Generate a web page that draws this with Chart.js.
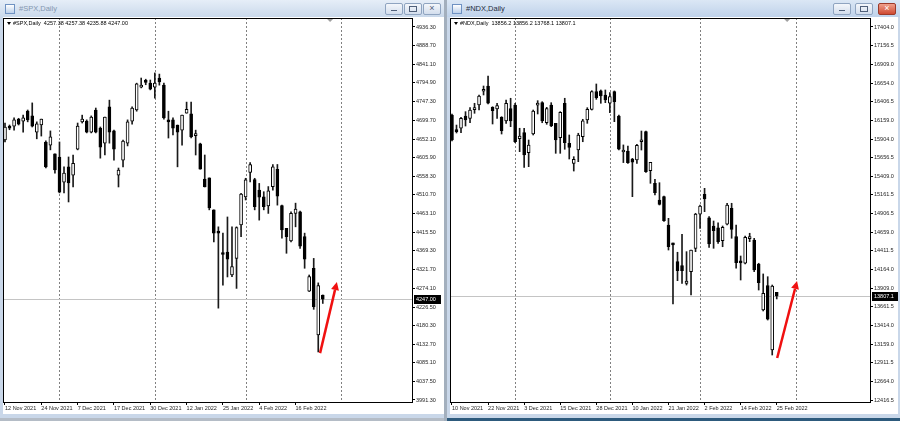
<!DOCTYPE html>
<html>
<head>
<meta charset="utf-8">
<script src="https://cdn.jsdelivr.net/npm/chart.js@4"></script>
<style>
body { margin:0; width:900px; height:421px; background:#a3afbd; position:relative; overflow:hidden; font-family:"Liberation Sans", Arial, sans-serif; }
.win { position:absolute; top:0; height:421px; background:#c9d7e9; }
.title { position:absolute; left:0; right:0; top:0; height:17px; background:linear-gradient(#e6eef8,#cad9eb); }
.ttl { position:absolute; left:19px; top:4px; font-size:7.5px; }
.ico { position:absolute; left:5px; top:4px; width:8px; height:8px; border:1px solid #6f92c2; background:linear-gradient(#ffffff,#bcd0ea); }
.btn { position:absolute; top:3px; width:16px; height:10px; border:1px solid #8fa4c0; border-radius:2px; background:linear-gradient(#f4f7fb,#d3deed); }
.btn.red { background:linear-gradient(#f0a08c,#cf4a32); border-color:#9c3a2a; }
.btn i { position:absolute; display:block; }
.btn .mn { left:5px; top:6px; width:6px; height:1px; background:#50607a; }
.btn .mx { left:4px; top:2px; width:6px; height:4px; border:1px solid #50607a; }
.btn .cl { left:0; right:0; top:-1px; text-align:center; font-size:9px; line-height:11px; color:#50607a; font-style:normal; }
.btn.red .cl { color:#fff; }
.foot { position:absolute; left:0; right:0; bottom:0; height:3px; }
canvas { position:absolute; top:17px; background:#fff; }
</style>
</head>
<body>
<div class="win" style="left:0;width:444px">
  <div class="title">
    <div class="ico"></div><span class="ttl" style="color:#8497b0">#SPX,Daily</span>
    <div class="btn" style="left:385px"><i class="mn"></i></div>
    <div class="btn" style="left:404px"><i class="mx"></i></div>
    <div class="btn" style="left:423px"><i class="cl">×</i></div>
  </div>
  <canvas id="spxChart" width="441" height="397" style="left:3px"></canvas>
  <div class="foot" style="background:#b4bcc6"></div>
</div>
<div class="win" style="left:447px;width:453px">
  <div class="title" style="background:linear-gradient(#dbe7f5,#bfd2ea)">
    <div class="ico"></div><span class="ttl" style="color:#1e2c40">#NDX,Daily</span>
    <div class="btn" style="left:386px"><i class="mn"></i></div>
    <div class="btn" style="left:408px"><i class="mx"></i></div>
    <div class="btn red" style="left:431px"><i class="cl">×</i></div>
  </div>
  <canvas id="ndxChart" width="448" height="397" style="left:3px"></canvas>
  <div class="foot" style="background:#2d5a7c"></div>
</div>
<script>
// #SPX daily candles, 12 Nov 2021 .. 25 Feb 2022
const spxOpen = [4650,4683,4685,4703,4698,4723,4711,4670,4688,4645,4637,4615,4607,4543,4582,4561,4627,4696,4698,4670,
  4726,4680,4642,4734,4673,4561,4599,4642,4698,4726,4784,4799,4794,4784,4807,4789,4699,4701,4688,4675,
  4718,4716,4661,4640,4551,4554,4473,4417,4365,4366,4308,4350,4435,4506,4568,4550,4523,4506,4483,4532,
  4576,4484,4426,4394,4464,4468,4405,4267,4325,4156,4257.38];
const spxHigh = [4693,4688,4706,4705,4713,4726,4744,4696,4703,4648,4673,4615,4645,4582,4607,4612,4693,4713,4701,4711,
  4731,4683,4708,4751,4675,4579,4650,4701,4734,4794,4807,4804,4802,4820,4817,4794,4723,4706,4688,4713,
  4746,4746,4675,4642,4612,4554,4473,4430,4414,4455,4430,4430,4515,4553,4593,4553,4540,4519,4532,4588,
  4588,4485,4426,4468,4490,4470,4414,4308,4350,4288,4257.38];
const spxLow = [4645,4676,4675,4688,4670,4696,4683,4653,4660,4579,4625,4566,4516,4516,4493,4531,4625,4693,4668,4668,
  4668,4604,4612,4642,4599,4531,4582,4635,4690,4723,4782,4790,4777,4756,4789,4703,4655,4663,4582,4637,
  4718,4655,4612,4576,4531,4473,4392,4224,4282,4303,4304,4274,4405,4498,4544,4473,4447,4473,4464,4523,
  4485,4401,4363,4392,4430,4375,4325,4266,4221,4113,4235.88];
const spxClose = [4683,4680,4701,4690,4706,4701,4685,4691,4703,4582,4658,4574,4518,4566,4541,4591,4685,4703,4670,4708,
  4670,4632,4708,4670,4627,4574,4647,4696,4731,4792,4786,4796,4779,4794,4797,4706,4696,4680,4670,4713,
  4728,4658,4666,4576,4531,4478,4414,4414,4360,4348,4329,4428,4513,4549,4588,4481,4505,4481,4521,4582,
  4508,4422,4405,4464,4475,4381,4348,4304,4228,4281,4247.00];
const spxDates = ["12 Nov 2021","24 Nov 2021","7 Dec 2021","17 Dec 2021","30 Dec 2021","12 Jan 2022","25 Jan 2022","4 Feb 2022","16 Feb 2022"];
const spxPriceTicks = [4936.3,4888.7,4841.1,4794.9,4747.3,4699.7,4652.1,4605.9,4558.3,4510.7,4463.1,4415.5,4369.3,4321.7,4274.1,4226.5,4180.3,4132.7,4085.1,4037.5,3991.3];
const spxMonthStarts = [12, 33, 53, 74];

// #NDX daily candles, 10 Nov 2021 .. 25 Feb 2022
const ndxOpen = [16227,16020,16050,16214,16183,16300,16361,16545,16615,16330,16308,16197,16147,16312,16361,15910,15991,15723,15973,16360,
  16392,16124,16361,16116,15924,16384,15849,15581,15759,15937,16160,16303,16539,16552,16495,16384,16539,16214,15733,15746,
  15639,15626,15870,16004,15483,15314,15091,15135,14757,14505,14266,14213,13977,14132,14445,14900,15167,14854,14743,14720,
  14547,14766,14980,14600,14266,14245,14575,14556,14235,13620,13945,13085,13856.2];
const ndxHigh = [16240,16093,16197,16272,16325,16384,16495,16615,16749,16338,16384,16205,16428,16451,16384,16050,16050,15893,16294,16419,
  16405,16330,16392,16116,16272,16451,15960,15670,15983,16170,16325,16552,16642,16562,16562,16526,16549,16227,15827,15813,
  15648,15836,16013,16013,15595,15368,15322,15144,14846,14515,14392,14632,14400,14422,14913,15024,15247,14868,14810,14787,
  14743,15047,15047,14757,14342,14610,14646,14578,14245,14102,14065,13954,13856.2];
const ndxLow = [15880,15987,15991,16080,16124,16250,16294,16495,16374,16107,16183,15973,16116,16071,15857,15737,15528,15536,15960,16241,
  16124,16103,16071,15715,15715,15769,15639,15478,15603,15870,16116,16294,16437,16384,16392,16258,16138,15759,15591,15581,
  15135,15581,15759,15458,15314,15158,15024,14803,14422,13700,14012,13977,13954,13820,14400,14712,14935,14458,14445,14511,
  14466,14757,14579,14178,14021,14236,14534,14133,13887,13607,13486,13018,13768.1];
const ndxClose = [15893,16005,16183,16160,16294,16316,16481,16560,16384,16285,16352,16018,16384,16147,15870,15946,15692,15826,16281,16375,
  16147,16312,16080,15893,16263,15857,15795,15635,15960,16151,16303,16539,16459,16481,16428,16472,16405,15769,15759,15590,
  15595,15822,15893,15469,15595,15188,15033,14814,14466,14490,14146,14146,14008,14422,14904,15011,15104,14502,14680,14533,
  14726,15024,14699,14253,14250,14592,14592,14155,13985,13843,13496,13941,13807.1];
const ndxDates = ["10 Nov 2021","22 Nov 2021","3 Dec 2021","15 Dec 2021","28 Dec 2021","10 Jan 2022","21 Jan 2022","2 Feb 2022","14 Feb 2022","25 Feb 2022"];
const ndxPriceTicks = [17404.0,17156.5,16909.0,16654.0,16406.5,16159.0,15904.0,15656.5,15409.0,15161.5,14906.5,14659.0,14411.5,14164.0,13909.0,13661.5,13414.0,13159.0,12911.5,12664.0,12416.5];
const ndxMonthStarts = [14, 35, 55, 76.3];

const tickFont = { family: "Liberation Sans", size: 5.5 };

function buildCandles(open, high, low, close) {
  const wicks = [], bodies = [], colors = [];
  for (let i = 0; i < open.length; i++) {
    wicks.push({ x: i, y: [low[i], high[i]] });
    bodies.push({ x: i, y: [open[i], close[i]] });
    colors.push(close[i] >= open[i] ? "#ffffff" : "#000000");
  }
  return { wicks, bodies, colors };
}

function mtPlugin(o) {
  return {
    id: "mt" + o.symbol,
    beforeDatasetsDraw(chart) {
      const { ctx, chartArea: a, scales } = chart;
      ctx.save();
      ctx.lineWidth = 1;
      ctx.strokeStyle = "#808080";
      ctx.setLineDash([2, 2]);
      o.separators.forEach(function (s) {
        const px = Math.round(scales.x.getPixelForValue(s)) + 0.5;
        ctx.beginPath(); ctx.moveTo(px, a.top); ctx.lineTo(px, a.bottom); ctx.stroke();
      });
      ctx.setLineDash([]);
      ctx.strokeStyle = "#c4c4c4";
      const py = Math.round(scales.y.getPixelForValue(o.close[o.close.length - 1])) + 0.5;
      ctx.beginPath(); ctx.moveTo(a.left, py); ctx.lineTo(a.right, py); ctx.stroke();
      ctx.restore();
    },
    afterDraw(chart) {
      const { ctx, chartArea: a, scales } = chart;
      const n = o.close.length - 1;
      ctx.save();
      // frame
      ctx.strokeStyle = "#000";
      ctx.lineWidth = 1;
      ctx.strokeRect(a.left + 0.5, a.top + 0.5, a.right - a.left - 1, a.bottom - a.top);
      // current price box
      const py = Math.round(scales.y.getPixelForValue(o.close[n]));
      ctx.fillStyle = "#000";
      ctx.fillRect(a.right + 1, py - 4, 27, 9);
      ctx.fillStyle = "#fff";
      ctx.font = "5.5px 'Liberation Sans'";
      ctx.textBaseline = "middle";
      ctx.fillText(o.close[n].toFixed(o.digits), a.right + 3, py + 0.5);
      // header
      ctx.fillStyle = "#000";
      ctx.beginPath();
      ctx.moveTo(a.left + 4, a.top + 4); ctx.lineTo(a.left + 8, a.top + 4); ctx.lineTo(a.left + 6, a.top + 7);
      ctx.fill();
      const vals = [o.open[n], o.high[n], o.low[n], o.close[n]].map(v => v.toFixed(o.digits)).join(" ");
      ctx.fillText("#" + o.symbol + ",Daily  " + vals, a.left + 10, a.top + 5.5);
      // chart shift marker
      const sx = scales.x.getPixelForValue(o.shift);
      ctx.fillStyle = "#a0a0a0";
      ctx.beginPath();
      ctx.moveTo(sx - 3, a.top + 1); ctx.lineTo(sx + 3, a.top + 1); ctx.lineTo(sx, a.top + 4);
      ctx.fill();
      // red arrow
      const x1 = scales.x.getPixelForValue(o.arrow[0][0]), y1 = scales.y.getPixelForValue(o.arrow[0][1]);
      const x2 = scales.x.getPixelForValue(o.arrow[1][0]), y2 = scales.y.getPixelForValue(o.arrow[1][1]);
      const ang = Math.atan2(y2 - y1, x2 - x1);
      const hx = x2 - 8 * Math.cos(ang), hy = y2 - 8 * Math.sin(ang);
      ctx.strokeStyle = "#f01010";
      ctx.fillStyle = "#f01010";
      ctx.lineWidth = 2.5;
      ctx.beginPath(); ctx.moveTo(x1, y1); ctx.lineTo(hx, hy); ctx.stroke();
      ctx.beginPath();
      ctx.moveTo(x2, y2);
      ctx.lineTo(hx + 4 * Math.sin(ang), hy - 4 * Math.cos(ang));
      ctx.lineTo(hx - 4 * Math.sin(ang), hy + 4 * Math.cos(ang));
      ctx.closePath(); ctx.fill();
      ctx.restore();
    }
  };
}

function makeChart(canvasId, o) {
  const c = buildCandles(o.open, o.high, o.low, o.close);
  const config = {
    type: "bar",
    data: {
      datasets: [
        { data: c.bodies, backgroundColor: c.colors, borderColor: "#000", borderWidth: 1,
          borderSkipped: false, barThickness: 3, minBarLength: 2, grouped: false, order: 0 },
        { data: c.wicks, backgroundColor: "#1a1a1a", borderWidth: 0,
          barThickness: 1, grouped: false, order: 1 }
      ]
    },
    options: {
      responsive: false,
      animation: false,
      layout: { padding: { top: 1, left: 0, right: 0, bottom: 0 } },
      plugins: { legend: { display: false }, tooltip: { enabled: false } },
      scales: {
        x: {
          type: "linear", min: o.xMin, max: o.xMax, offset: false,
          grid: { offset: false, drawOnChartArea: false, tickLength: 3, color: "#000" },
          border: { display: false },
          afterBuildTicks: s => { s.ticks = o.dates.map((d, i) => ({ value: i * 8 })); },
          afterFit: s => { s.height = 12; s.paddingLeft = 0; s.paddingRight = 0; },
          ticks: { autoSkip: false, maxRotation: 0, minRotation: 0, align: "start", padding: 0,
            color: "#1e1e1e", font: tickFont, callback: v => o.dates[Math.round(v / 8)] }
        },
        y: {
          position: "right", min: o.yMin, max: o.yMax,
          grid: { drawOnChartArea: false, tickLength: 2, color: "#000" },
          border: { display: false },
          afterBuildTicks: s => { s.ticks = o.priceTicks.map(v => ({ value: v })); },
          afterFit: s => { s.width = o.axisWidth; s.paddingTop = 0; s.paddingBottom = 0; },
          ticks: { padding: 1, color: "#1e1e1e", font: tickFont, callback: v => v.toFixed(o.digits) }
        }
      }
    },
    plugins: [mtPlugin(o)]
  };
  return new Chart(document.getElementById(canvasId), config);
}

makeChart("spxChart", {
  symbol: "SPX", digits: 2, open: spxOpen, high: spxHigh, low: spxLow, close: spxClose,
  dates: spxDates, priceTicks: spxPriceTicks, separators: spxMonthStarts,
  xMin: -0.44, xMax: 89.87, yMin: 3986.2, yMax: 4959.1, axisWidth: 31,
  shift: 71.6, arrow: [[69.4, 4110], [73.1, 4290]]
});

makeChart("ndxChart", {
  symbol: "NDX", digits: 1, open: ndxOpen, high: ndxHigh, low: ndxLow, close: ndxClose,
  dates: ndxDates, priceTicks: ndxPriceTicks, separators: ndxMonthStarts,
  xMin: -0.44, xMax: 92.9, yMin: 12389.8, yMax: 17524.3, axisWidth: 27,
  shift: 74.3, arrow: [[72.1, 12978], [76.5, 14008]]
});
</script>
</body>
</html>
